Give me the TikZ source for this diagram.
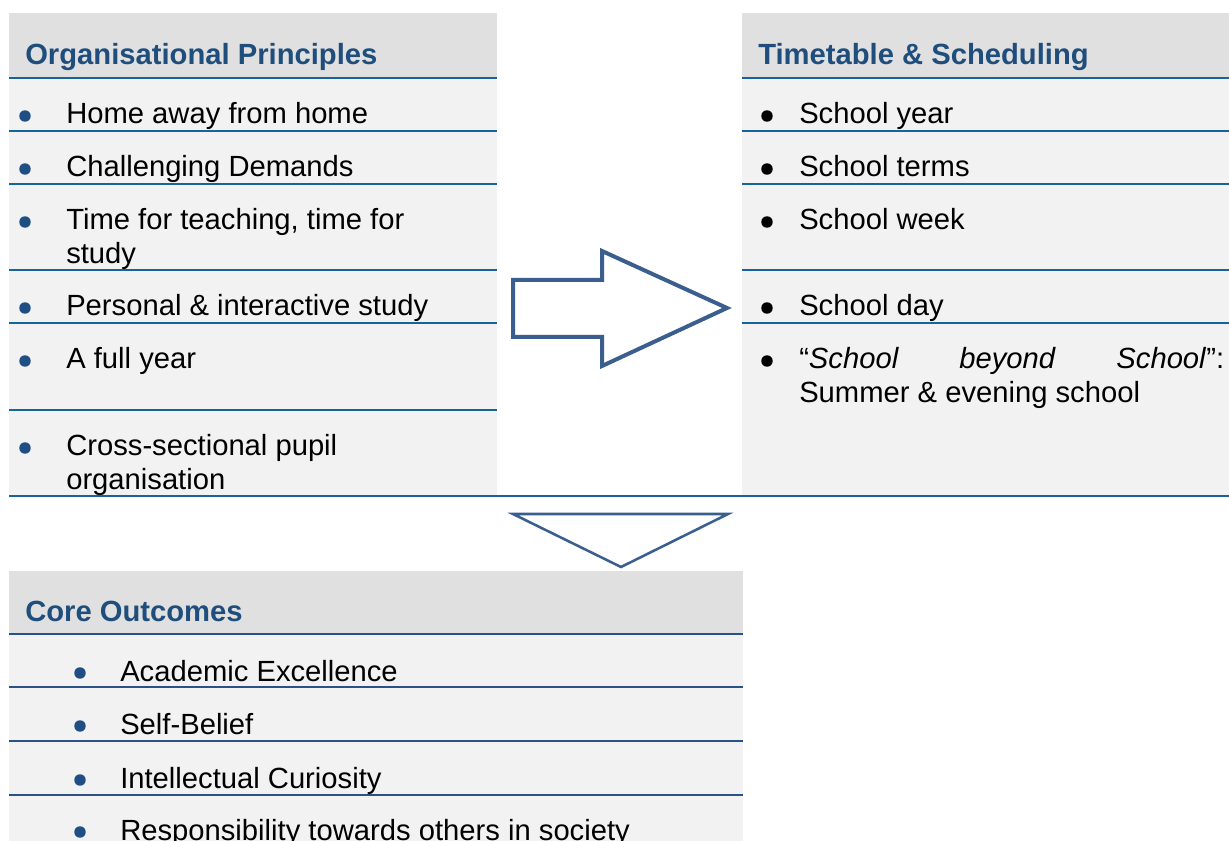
\documentclass[tikz,border=0pt]{standalone}
\usepackage{fontspec}
\setmainfont{Liberation Sans}
\definecolor{hdrgray}{HTML}{E0E0E0}
\definecolor{bodygray}{HTML}{F2F2F2}
\definecolor{rulecol}{HTML}{17649A}
\definecolor{rulecoltwo}{HTML}{2B5187}
\definecolor{hdrtext}{HTML}{1F4E7C}
\definecolor{dotblue}{HTML}{1F4E85}
\definecolor{arrowcol}{HTML}{3A5F8E}
\newcommand\cellfont{\fontsize{21.9}{25.5}\selectfont}
\tikzset{
  hdr/.style={anchor=base west, inner sep=0pt, font=\cellfont\bfseries, text=hdrtext},
  entry/.style={anchor=base west, inner sep=0pt, font=\cellfont, text=black},
  bluedot/.style={circle, fill=dotblue, inner sep=0pt, minimum size=8.6pt},
  blackdot/.style={circle, fill=black, inner sep=0pt, minimum size=8.6pt},
  rowrule/.style={draw=rulecol, line width=1.6pt},
  rowruletwo/.style={draw=rulecoltwo, line width=1.6pt},
  blockarrow/.style={draw=arrowcol, line width=3pt, fill=white, line join=miter},
  thinarrow/.style={draw=arrowcol, line width=1.9pt, fill=white, line join=miter}
}
\begin{document}
\begin{tikzpicture}[x=0.75pt,y=-0.75pt]
\useasboundingbox (0,0) rectangle (1229,841);
% panel backgrounds
\fill[hdrgray] (9,13) rectangle (497,78);
\fill[bodygray] (9,78) rectangle (497,496);
\fill[hdrgray] (742,13) rectangle (1229,78);
\fill[bodygray] (742,78) rectangle (1229,496);
\fill[hdrgray] (9,571) rectangle (743,634);
\fill[bodygray] (9,634) rectangle (743,841);

% row rules
\foreach \y in {78,131,184,270,323,410}
  \draw[rowrule] (9,\y) -- (497,\y);
\foreach \y in {78,131,184,270,323}
  \draw[rowrule] (742,\y) -- (1229,\y);
\draw[rowrule] (9,496) -- (1229,496);
\foreach \y in {634,687,741,795}
  \draw[rowruletwo] (9,\y) -- (743,\y);

% left panel
\node[hdr] (orgh) at (25,65) {Organisational Principles};
\node[bluedot] (ld1) at (25,116) {};
\node[entry] (l1) at (66,124) {Home away from home};
\node[bluedot] (ld2) at (25,169) {};
\node[entry] (l2) at (66,177) {Challenging Demands};
\node[bluedot] (ld3) at (25,222) {};
\node[entry] (l3a) at (66,230) {Time for teaching, time for};
\node[entry] (l3b) at (66,264) {study};
\node[bluedot] (ld4) at (25,308) {};
\node[entry] (l4) at (66,316) {Personal \& interactive study};
\node[bluedot] (ld5) at (25,361) {};
\node[entry] (l5) at (66,369) {A full year};
\node[bluedot] (ld6) at (25,448) {};
\node[entry] (l6a) at (66,456) {Cross-sectional pupil};
\node[entry] (l6b) at (66,490) {organisation};

% right panel
\node[hdr] (timh) at (758,65) {Timetable \& Scheduling};
\node[blackdot] (rd1) at (767,116) {};
\node[entry] (r1) at (799,124) {School year};
\node[blackdot] (rd2) at (767,169) {};
\node[entry] (r2) at (799,177) {School terms};
\node[blackdot] (rd3) at (767,222) {};
\node[entry] (r3) at (799,230) {School week};
\node[blackdot] (rd4) at (767,308) {};
\node[entry] (r4) at (799,316) {School day};
\node[blackdot] (rd5) at (767,361) {};
\node[entry] (r5a) at (799,369) {\makebox[318.75pt][s]{“\textit{School} \textit{beyond} \textit{School}”:}};
\node[entry] (r5b) at (799,403) {Summer \& evening school};

% block arrows
\draw[blockarrow] (513,280) -- (602,280) -- (602,251) -- (727,308)
  -- (602,366) -- (602,337) -- (513,337) -- cycle;
\draw[thinarrow] (513,514) -- (728,514) -- (621,567) -- cycle;

% bottom panel
\node[hdr] (coreh) at (25,622) {Core Outcomes};
\node[bluedot] (bd1) at (80,673) {};
\node[entry] (b1) at (120,681) {Academic Excellence};
\node[bluedot] (bd2) at (80,726) {};
\node[entry] (b2) at (120,734) {Self-Belief};
\node[bluedot] (bd3) at (80,780) {};
\node[entry] (b3) at (120,788) {Intellectual Curiosity};
\node[bluedot] (bd4) at (80,832) {};
\node[entry] (b4) at (120,840) {Responsibility towards others in society};
\end{tikzpicture}
\end{document}
